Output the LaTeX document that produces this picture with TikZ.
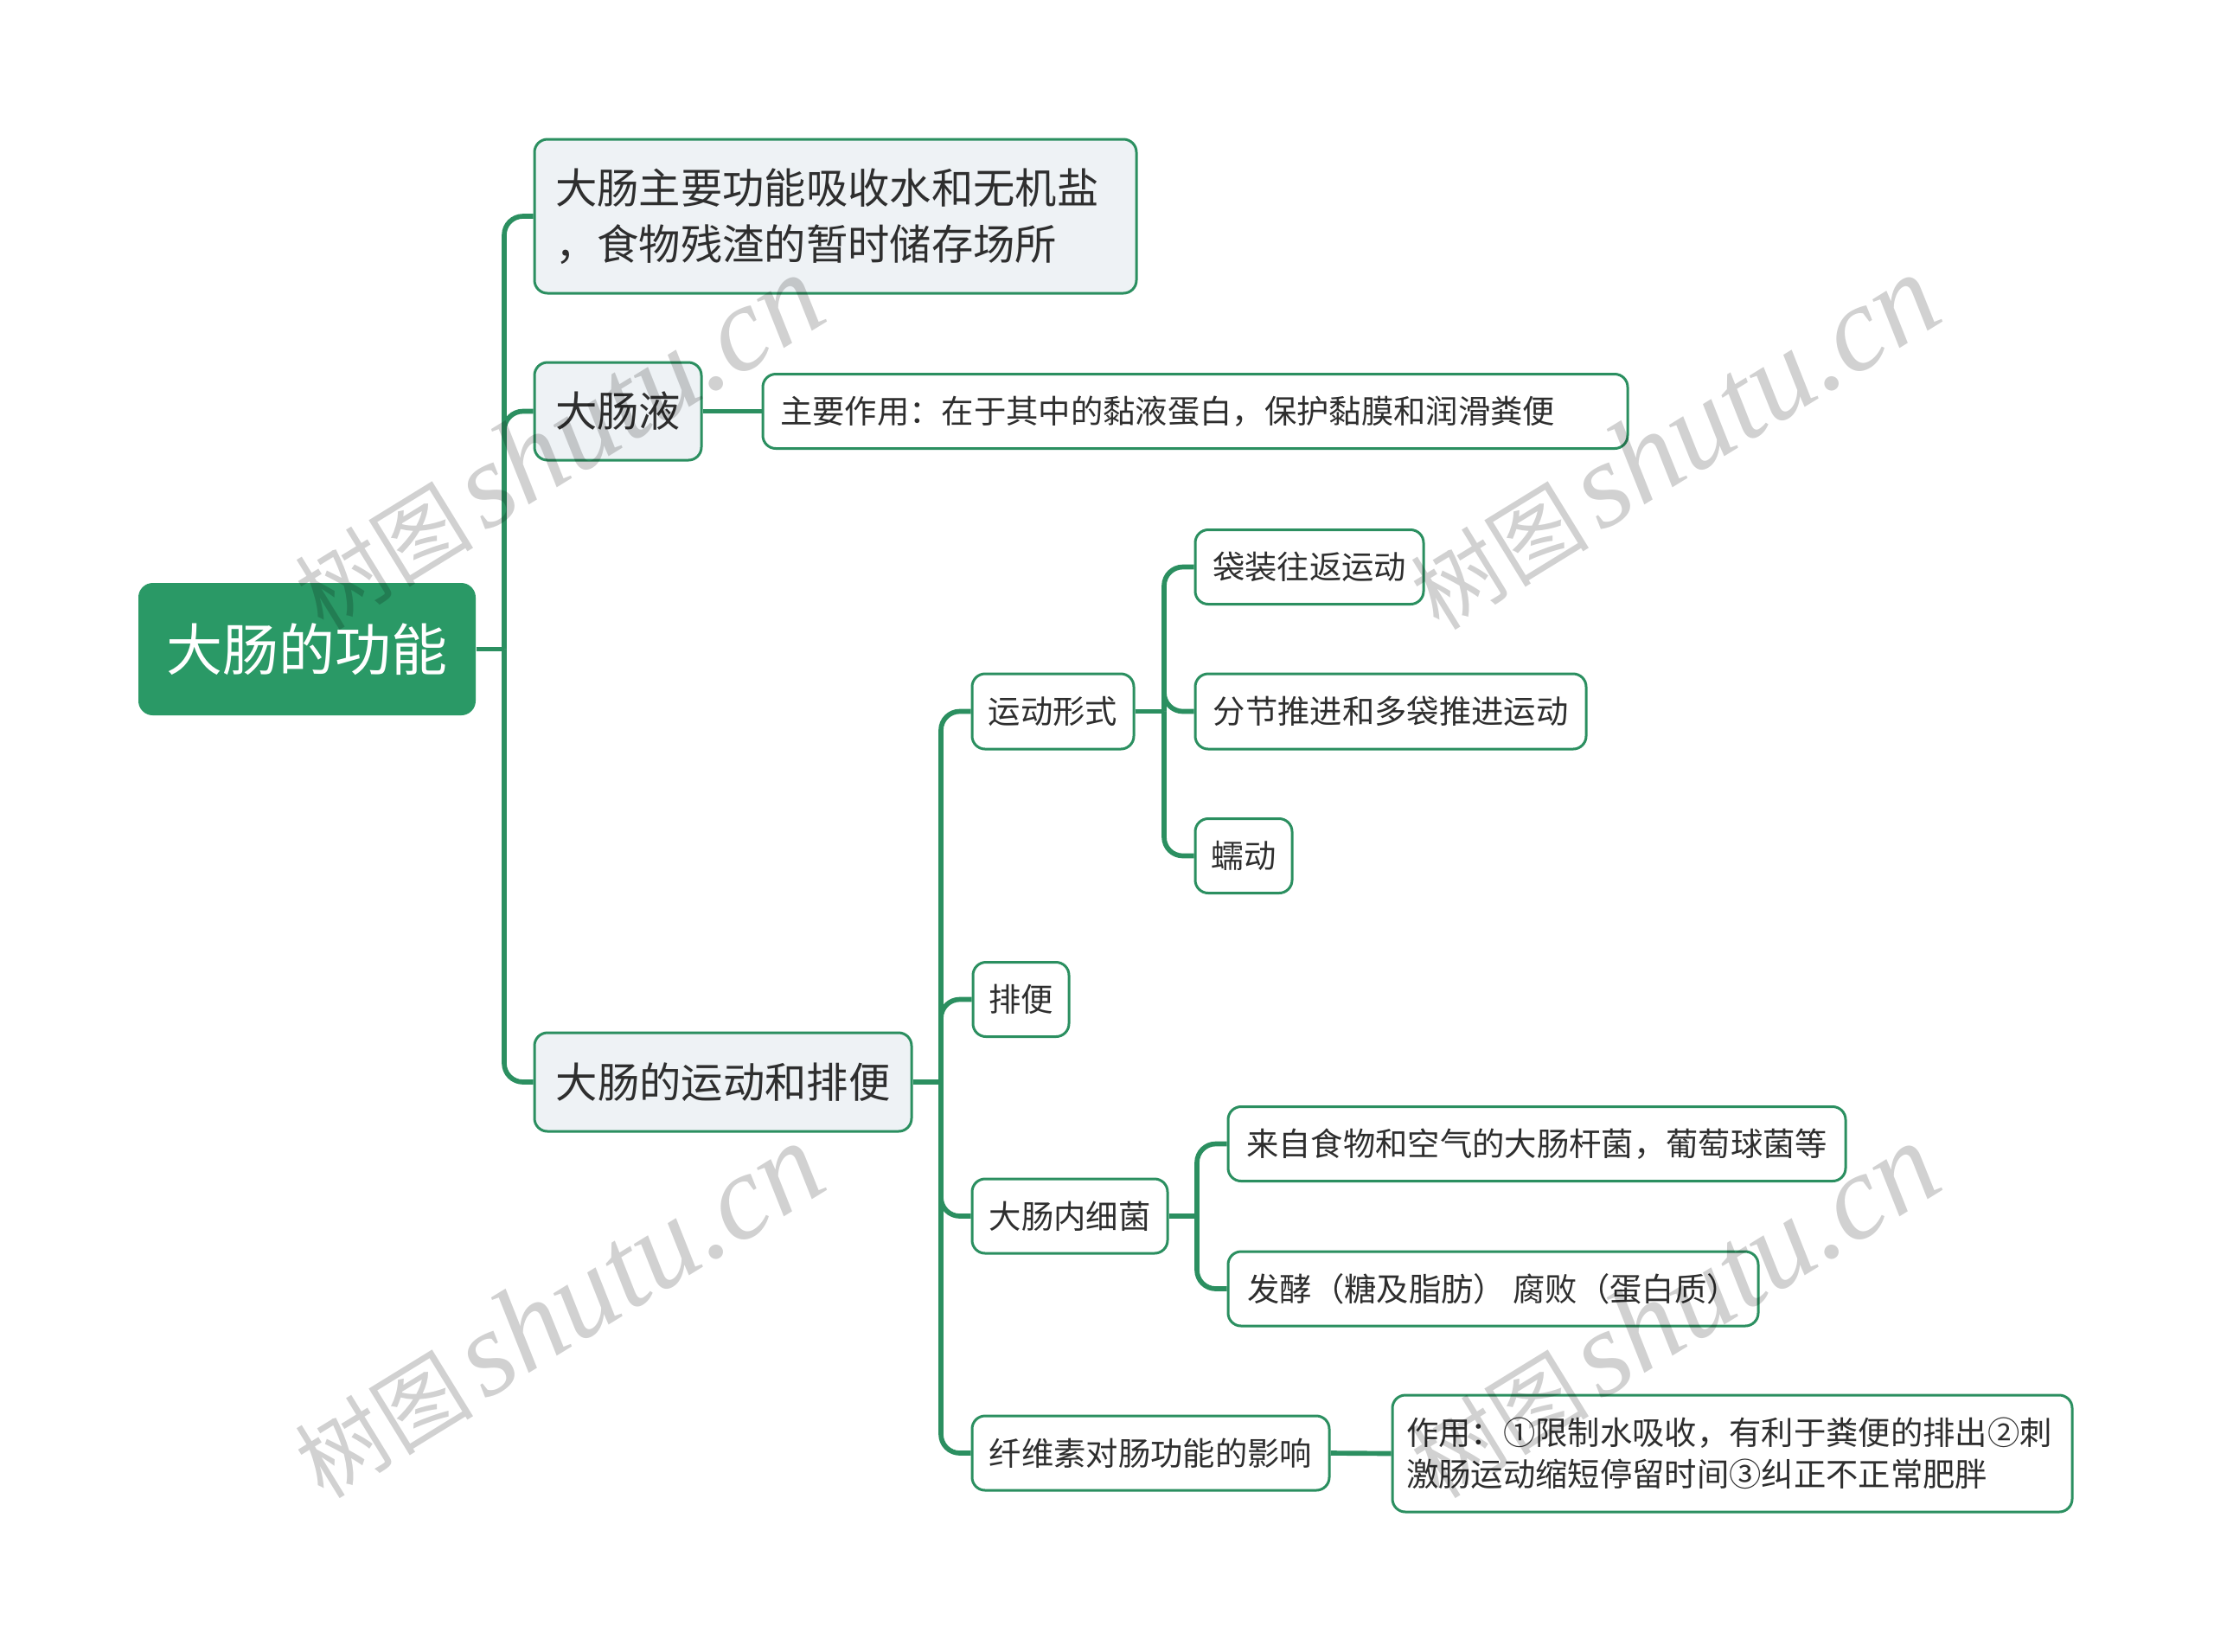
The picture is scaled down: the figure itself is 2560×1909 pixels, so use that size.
\documentclass[tikz,border=0pt]{standalone}
\usepackage{fontspec}
\newfontfamily\cjk{Noto Sans CJK SC}
\newfontfamily\wmserif{Liberation Serif}
\definecolor{mgreen}{HTML}{2A9966}
\definecolor{lgreen}{HTML}{2B8F60}
\definecolor{lfill}{HTML}{EEF2F5}
\definecolor{tcol}{HTML}{2E2E2E}
\begin{document}
\begin{tikzpicture}[x=0.3pt,y=-0.3pt,
  conn/.style={draw=lgreen, line width=1.7pt, rounded corners=6.5pt},
  rootbox/.style={fill=mgreen, draw=none, rounded corners=5pt, text=white,
    font=\cjk\fontsize{19.5}{24}\selectfont, inner sep=0pt},
  lvtwo/.style={fill=lfill, draw=lgreen, line width=0.9pt, rounded corners=4.5pt,
    text=tcol, font=\cjk\fontsize{14.5}{19.5}\selectfont, inner sep=0pt},
  lvthree/.style={fill=white, draw=lgreen, line width=0.9pt, rounded corners=4.5pt,
    text=tcol, font=\cjk\fontsize{11.2}{14.4}\selectfont, inner sep=0pt, minimum height=25.8pt},
  wm/.style={text=black, opacity=0.18, inner sep=0pt, rotate=31.6}
]
\fill[white] (0,0) rectangle (2560,1909);
\useasboundingbox (0,0) rectangle (2560,1909);

% nodes
\node[rootbox, minimum width=117pt, minimum height=45.9pt] (root) at (355,750.5) {大肠的功能};

\node[lvtwo, minimum width=208.8pt, minimum height=53.4pt, text width=194.4pt, align=left, inner xsep=7.2pt] (A) at (966,250)
  {大肠主要功能吸收水和无机盐\\，食物残渣的暂时储存场所};
\node[lvtwo, minimum width=57.9pt, minimum height=33.9pt] (B) at (714.5,475.5) {大肠液};
\node[lvtwo, minimum width=130.8pt, minimum height=34.2pt] (C) at (836,1251) {大肠的运动和排便};

\node[lvthree, minimum width=300pt, text width=288pt, align=left, inner xsep=6pt] (B1) at (1382,475.5)
  {主要作用：在于其中的黏液蛋白，保护黏膜和润滑粪便};

\node[lvthree, minimum width=56.1pt, minimum height=26.1pt] (C1) at (1217.5,822.5) {运动形式};
\node[lvthree, minimum width=79.2pt] (C1a) at (1514,655.5) {袋装往返运动};
\node[lvthree, minimum width=135.6pt, minimum height=26.1pt] (C1b) at (1608,822.5) {分节推进和多袋推进运动};
\node[lvthree, minimum width=33.6pt] (C1c) at (1438,989.5) {蠕动};

\node[lvthree, minimum width=33.3pt] (C2) at (1180.5,1155.5) {排便};

\node[lvthree, minimum width=67.8pt] (C3) at (1237,1406) {大肠内细菌};
\node[lvthree, minimum width=214.2pt] (C3a) at (1777,1322.5) {来自食物和空气的大肠杆菌，葡萄球菌等};
\node[lvthree, minimum width=183.9pt] (C3b) at (1726.5,1490) {发酵（糖及脂肪） 腐败（蛋白质）};

\node[lvthree, minimum width=123.9pt] (C4) at (1330.5,1680) {纤维素对肠功能的影响};
\node[lvthree, minimum width=235.8pt, minimum height=40.5pt, text width=226.2pt, align=left, inner xsep=4.8pt] (C4a) at (2003,1680.5)
  {作用：①限制水吸收，有利于粪便的排出②刺\\激肠运动缩短停留时间③纠正不正常肥胖};

% junctions
\coordinate (jr) at (583,750.5);
\coordinate (jc) at (1088,1251);
\coordinate (jc1) at (1346,822.5);
\coordinate (jc3) at (1384,1406);

% connectors
\draw[conn] (root.east) -- (jr);
\draw[conn] (jr) |- (A.west);
\draw[conn] (jr) |- (B.west);
\draw[conn] (jr) |- (C.west);
\draw[conn] (B.east) -- (B1.west);

\draw[conn] (C.east) -- (jc);
\draw[conn] (jc) |- (C1.west);
\draw[conn] (jc) |- (C2.west);
\draw[conn] (jc) |- (C3.west);
\draw[conn] (jc) |- (C4.west);

\draw[conn] (C1.east) -- (jc1);
\draw[conn] (jc1) |- (C1a.west);
\draw[conn] (jc1) |- (C1b.west);
\draw[conn] (jc1) |- (C1c.west);

\draw[conn] (C3.east) -- (jc3);
\draw[conn] (jc3) |- (C3a.west);
\draw[conn] (jc3) |- (C3b.west);

\draw[conn] (C4.east) -- (C4a.west);

% watermarks
\foreach \wx/\wy [count=\i] in {645/512, 1935/512, 645/1516, 1935/1516}{
  \node[wm] (wm\i) at (\wx,\wy) {{\cjk\fontsize{31}{36}\selectfont 树图}\hspace{4pt}{\wmserif\itshape\fontsize{42}{46}\selectfont shutu.cn}};
}
\end{tikzpicture}
\end{document}
